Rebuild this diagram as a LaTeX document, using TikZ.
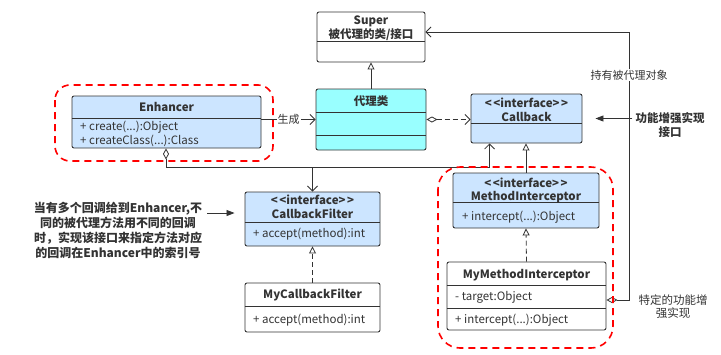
\documentclass[tikz,border=0pt]{standalone}
\usepackage{fontspec}
\setmainfont{Noto Sans CJK SC}
\usetikzlibrary{arrows.meta,calc}
\definecolor{ink}{HTML}{333333}
\definecolor{lblue}{HTML}{CCE5FF}
\definecolor{cyanf}{HTML}{99FFFF}
\definecolor{redd}{HTML}{FF0000}
\begin{document}
\begin{tikzpicture}[x=1pt,y=-1pt,
  box/.style={draw=ink, line width=0.9pt, rounded corners=2pt, inner sep=0pt},
  plainbox/.style={box, fill=white},
  ifacebox/.style={box, fill=lblue},
  proxybox/.style={box, fill=cyanf},
  sepline/.style={draw=ink, line width=0.9pt},
  ttl/.style={font=\fontsize{11.5}{13}\selectfont\bfseries, text=ink, inner sep=0pt},
  mbr/.style={font=\fontsize{11.5}{13}\selectfont, text=ink, inner sep=0pt, anchor=west},
  conn/.style={draw=ink, line width=0.8pt},
  dashedconn/.style={conn, dash pattern=on 5pt off 3pt},
  openv/.style={-{Straight Barb[length=5pt,width=10pt]}},
  inherit/.style={-{Triangle[open,length=7pt,width=7pt,fill=white]}},
  aggrv/.style={{Diamond[open,length=11pt,width=6pt,fill=white]}-{Straight Barb[length=5pt,width=10pt]}},
  solidtip/.style={-{Triangle[length=8pt,width=6pt]}},
  note/.style={text=ink, inner sep=1pt, align=center},
  lbl/.style={fill=white, inner sep=1pt, text=ink, font=\fontsize{11}{13}\selectfont},
  redbox/.style={draw=redd, line width=1.6pt, dash pattern=on 7pt off 5pt},
]
\useasboundingbox (0,0) rectangle (721,354);

% ---------- class boxes ----------
\node[plainbox, minimum width=108pt, minimum height=50pt] (super) at (371,37) {};
\draw[sepline] (super.west |- 0,41) -- (super.east |- 0,41);
\node[ttl] at (371,21) {Super};
\node[ttl] at (371,35) {被代理的类/接口};

\node[proxybox, minimum width=110pt, minimum height=61pt] (proxy) at (371,119.5) {};
\draw[sepline] (proxy.west |- 0,112) -- (proxy.east |- 0,112);
\draw[sepline] (proxy.west |- 0,135) -- (proxy.east |- 0,135);
\node[ttl] at (371,101) {代理类};

\node[ifacebox, minimum width=111pt, minimum height=49pt] (cb) at (526.5,118.5) {};
\draw[sepline] (cb.west |- 0,123) -- (cb.east |- 0,123);
\node[ttl] at (526.5,103) {<\kern1.5pt<interface>\kern1.5pt>};
\node[ttl] at (526.5,117) {Callback};

\node[ifacebox, minimum width=189pt, minimum height=52pt] (enh) at (166.5,122) {};
\draw[sepline] (enh.west |- 0,118) -- (enh.east |- 0,118);
\node[ttl] at (166.5,107) {Enhancer};
\node[mbr] at (80,127) {+ create(...):Object};
\node[mbr] at (80,141) {+ createClass(...):Class};

\node[ifacebox, minimum width=135pt, minimum height=54pt] (cf) at (312.5,219) {};
\draw[sepline] (cf.west |- 0,222) -- (cf.east |- 0,222);
\node[ttl] at (312.5,200) {<\kern1.5pt<interface>\kern1.5pt>};
\node[ttl] at (312.5,214) {CallbackFilter};
\node[mbr] at (253,234) {+ accept(method):int};

\node[plainbox, minimum width=135pt, minimum height=49pt] (mcf) at (312.5,307.5) {};
\draw[sepline] (mcf.west |- 0,306) -- (mcf.east |- 0,306);
\node[ttl] at (312.5,295) {MyCallbackFilter};
\node[mbr] at (253,320) {+ accept(method):int};

\node[ifacebox, minimum width=146pt, minimum height=55pt] (mi) at (526,200.5) {};
\draw[sepline] (mi.west |- 0,202) -- (mi.east |- 0,202);
\node[ttl] at (526,183) {<\kern1.5pt<interface>\kern1.5pt>};
\node[ttl] at (526,197) {MethodInterceptor};
\node[mbr] at (462,217) {+ intercept(...):Object};

\node[plainbox, minimum width=159pt, minimum height=68pt] (mmi) at (526.5,296) {};
\draw[sepline] (mmi.west |- 0,285) -- (mmi.east |- 0,285);
\draw[sepline] (mmi.west |- 0,308) -- (mmi.east |- 0,308);
\node[ttl] at (526.5,275) {MyMethodInterceptor};
\node[mbr] at (455,297) {- target:Object};
\node[mbr] at (455,320) {+ intercept(...):Object};

% ---------- free texts ----------
\node[note, font=\fontsize{12}{15.2}\selectfont\bfseries] (filternote) at (118,230.5)
  {当有多个回调给到Enhancer,不\\同的被代理方法用不同的回调\\时，实现该接口来指定方法对应\\的回调在Enhancer中的索引号};
\node[note, font=\fontsize{11.5}{14}\selectfont\bfseries] (cbnote) at (670,125) {功能增强实现\\接口};
\node[note, font=\fontsize{11.5}{13.5}\selectfont] (minote) at (673,306.5) {特定的功能增\\强实现};

% ---------- connectors ----------
\draw[conn, inherit] (proxy.north) -- (super.south);
\draw[conn, openv] (enh.east |- proxy.west) -- node[lbl] {生成} (proxy.west);
\draw[dashedconn, aggrv] (proxy.east) -- (proxy.east -| cb.west);

\coordinate (bus) at (166,167);
\coordinate (cbin) at ($(cb.south west)+(19,0)$);
\draw[conn, aggrv] (enh.south -| bus) -- (bus) -| (cbin);
\draw[conn, openv] (bus -| cf.north) -- (cf.north);

\draw[conn, inherit] (mi.north) -- (mi.north |- cb.south);
\draw[dashedconn, inherit] (mmi.north) -- (mi.south);
\draw[dashedconn, inherit] (mcf.north) -- (cf.south);

\coordinate (holdstart) at ($(mmi.east)+(0,4)$);
\coordinate (rail) at (629,32);
\draw[conn, aggrv] (holdstart) -| (rail) -- (super.east |- rail);
\node[lbl] at (629,75) {持有被代理对象};

\coordinate (notetip) at (207,213);
\draw[conn, solidtip, shorten >=10pt] (notetip) -- (notetip -| cf.west);
\draw[conn, solidtip, shorten <=2pt, shorten >=13pt] (cbnote.west |- cb.east) -- (cb.east);

% ---------- highlighted groups ----------
\draw[redbox, rounded corners=15pt] (55,85) rectangle (273,161);
\draw[redbox, rounded corners=22pt] (438,167) rectangle (613,348);
\end{tikzpicture}
\end{document}
